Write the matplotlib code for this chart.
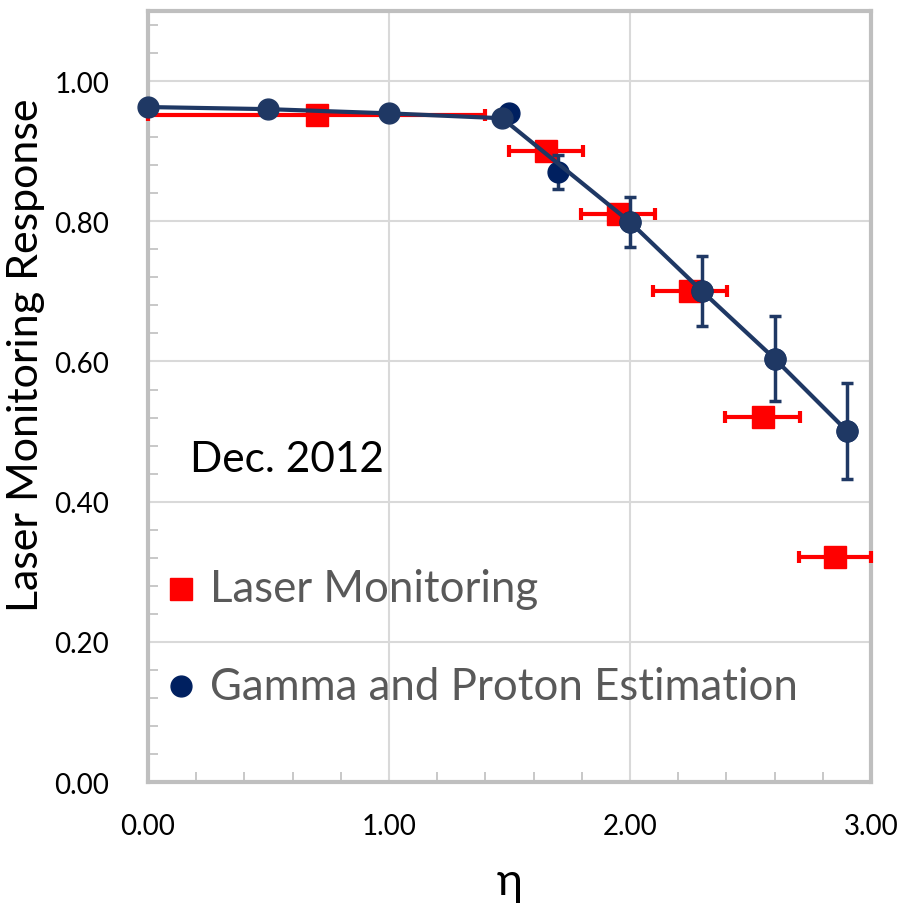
import matplotlib
matplotlib.use("Agg")
import matplotlib.pyplot as plt
from matplotlib.ticker import MultipleLocator, FormatStrFormatter

plt.rcParams['font.family'] = ['Lato', 'DejaVu Sans']

# laser monitoring (red squares, horizontal error bars)
laser_eta = [0.70, 1.65, 1.95, 2.25, 2.55, 2.85]
laser_resp = [0.951, 0.900, 0.810, 0.700, 0.521, 0.321]
laser_xerr = [0.70, 0.153, 0.153, 0.153, 0.156, 0.15]

# gamma / proton estimate, connected line
line_eta = [0.0, 0.5, 1.0, 1.47, 2.0, 2.3, 2.6, 2.9]
line_resp = [0.963, 0.960, 0.954, 0.947, 0.799, 0.700, 0.604, 0.501]

# gamma / proton points with vertical error bars
gp_eta = [1.5, 1.7, 2.0, 2.3, 2.6, 2.9]
gp_resp = [0.954, 0.870, 0.799, 0.700, 0.604, 0.501]
gp_yerr = [0.0, 0.024, 0.036, 0.050, 0.061, 0.069]

RED = '#FF0000'
NAVY = '#1F3864'
DARK = '#002060'
GRAY = '#BFBFBF'

fig = plt.figure(figsize=(9.04, 9.04), dpi=100)
ax = fig.add_axes([0.1637, 0.1338, 0.7998, 0.8529])

ax.errorbar(laser_eta, laser_resp, xerr=laser_xerr, fmt='s', color=RED,
            ms=16, elinewidth=3, capsize=4.5, capthick=3, zorder=3, clip_on=False)
ax.errorbar(gp_eta, gp_resp, yerr=gp_yerr, fmt='o', color=DARK, ecolor=NAVY,
            ms=15, elinewidth=2.5, capsize=4.5, capthick=2.5, zorder=4)
ax.plot(line_eta, line_resp, '-o', color=NAVY, lw=3, ms=15, zorder=5, clip_on=False)

ax.set_xlim(0, 3.0)
ax.set_ylim(0, 1.10)
ax.xaxis.set_major_locator(MultipleLocator(1.0))
ax.xaxis.set_minor_locator(MultipleLocator(0.2))
ax.yaxis.set_major_locator(MultipleLocator(0.2))
ax.yaxis.set_minor_locator(MultipleLocator(0.04))
ax.xaxis.set_major_formatter(FormatStrFormatter('%.2f'))
ax.yaxis.set_major_formatter(FormatStrFormatter('%.2f'))

ax.grid(True, which='major', color='#D9D9D9', lw=1.5, zorder=0)
ax.set_axisbelow(True)
for s in ax.spines.values():
    s.set_color(GRAY)
    s.set_linewidth(3)
ax.tick_params(which='both', direction='in', color=GRAY, width=1.2)
ax.tick_params(which='major', length=0, labelsize=20, pad=22)
ax.tick_params(which='minor', length=7)
ax.tick_params(axis='y', which='major', pad=28)

ax.set_xlabel('η', fontsize=32, labelpad=16)
ax.set_ylabel('Laser Monitoring Response', fontsize=31)
ax.yaxis.set_label_coords(-0.143, 0.555)

ax.text(0.174, 0.461, 'Dec. 2012', fontsize=30.5, color='black', va='center')
ax.plot([0.137], [0.276], 's', color=RED, ms=16)
ax.text(0.257, 0.276, 'Laser Monitoring', fontsize=31.5, color='#595959', va='center')
ax.plot([0.137], [0.137], 'o', color=DARK, ms=15)
ax.text(0.257, 0.137, 'Gamma and Proton Estimation', fontsize=31.5, color='#595959', va='center')

fig.savefig('out.png', dpi=100)
